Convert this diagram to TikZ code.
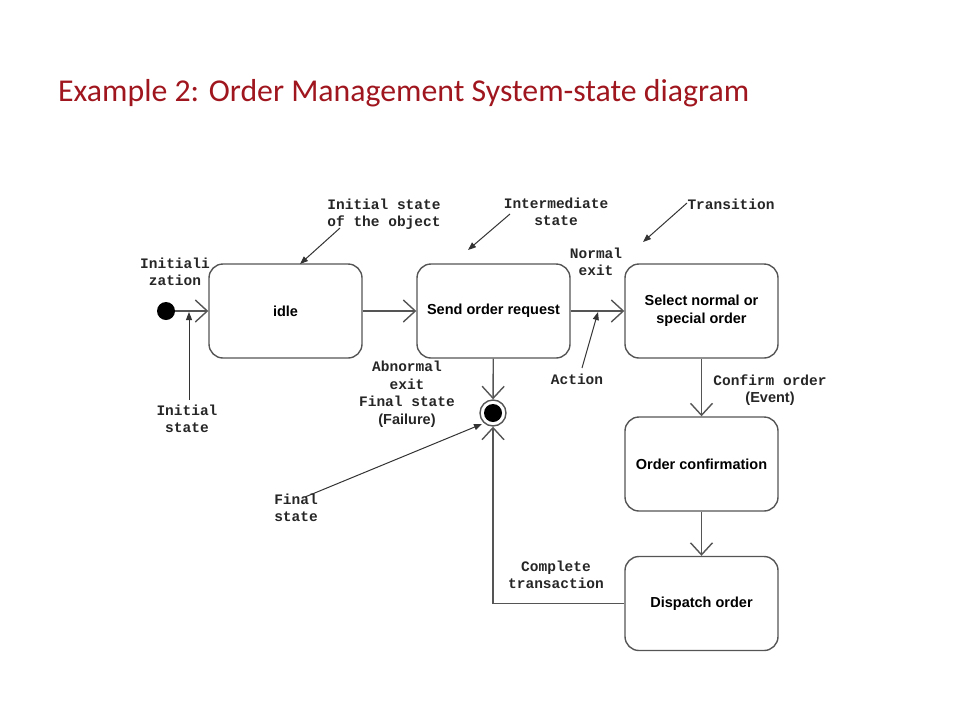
\documentclass[tikz,border=0pt]{standalone}
\usepackage{fontspec}
\usetikzlibrary{arrows.meta}
\setmainfont{Carlito}
\newfontfamily\boxfamily{Liberation Sans}
\newfontfamily\notefamily{Liberation Mono}
\definecolor{titlered}{HTML}{A0161E}
\definecolor{linegray}{HTML}{555555}

\tikzset{
  statebox/.style={draw=linegray, line width=1.4pt, rounded corners=14pt,
    minimum width=153pt, minimum height=94pt, align=center,
    font=\boxfamily\bfseries\fontsize{14.5}{18}\selectfont},
  annot/.style={align=center, text=black!85, inner sep=0pt,
    font=\notefamily\bfseries\fontsize{14.5}{17.5}\selectfont},
  transarrow/.style={draw=linegray, line width=1.4pt,
    -{Straight Barb[length=12pt,width=22pt]}},
  annotarrow/.style={draw=black!80, line width=1pt,
    -{Triangle[length=8pt,width=6pt]}},
}

\begin{document}
\begin{tikzpicture}[x=1pt,y=-1pt]
  \useasboundingbox (0,0) rectangle (960,720);
  %Title
  \node[anchor=base west, inner sep=0pt, text=titlered,
    font=\fontsize{31.8}{36}\selectfont] (title) at (58,101)
    {Example 2: Order Management System-state diagram};

  %States
  \node[statebox] (idle) at (285.5,311) {idle};
  \node[statebox] (send) at (493.5,311) {Send order request};
  \node[statebox] (select) at (701.5,311) {Select normal or\\special order};
  \node[statebox] (confirm) at (701.5,464) {Order confirmation};
  \node[statebox] (dispatch) at (701.5,603.5) {Dispatch order};

  \node[circle, fill=black, minimum size=18pt, inner sep=0pt] (start) at (166,311) {};
  \node[circle, draw=linegray, line width=1.4pt, fill=white,
    minimum size=26pt, inner sep=0pt] (final) at (493,413) {};
  \fill (final) circle (9pt);

  %Transitions
  \draw[transarrow] (start) -- (idle);
  \draw[transarrow] (idle) -- (send);
  \draw[transarrow] (send) -- (select);
  \draw[transarrow] (send) -- (final);
  \draw[transarrow] (select) -- (confirm);
  \draw[transarrow] (confirm) -- (dispatch);
  \draw[transarrow] (dispatch.west) -| (final.south);

  %Annotations
  \node[annot] (initobj) at (384,214) {Initial state\\of the object};
  \node[annot] (inter) at (556,212) {Intermediate\\state};
  \node[annot] (transition) at (731,204) {Transition};
  \node[annot] (initz) at (175,272) {Initiali\\zation};
  \node[annot] (initst) at (187,419) {Initial\\state};
  \node[annot] (normal) at (596,262) {Normal\\exit};
  \node[annot] (action) at (577,379) {Action};
  \node[annot] (abnormal) at (407,394)
    {Abnormal\\exit\\Final state\\{\boxfamily (Failure)}};
  \node[annot] (confirmlbl) at (770,390) {Confirm order\\{\boxfamily (Event)}};
  \node[annot] (finalst) at (296,508) {Final\\state};
  \node[annot] (complete) at (556,575) {Complete\\transaction};

  \coordinate (initobjtail) at (340,228);
  \coordinate (initobjtip) at (300,264);
  \coordinate (intertail) at (510,214);
  \coordinate (intertip) at (468,250);
  \coordinate (transtail) at (687,203);
  \coordinate (transtip) at (643,242);
  \coordinate (initsttail) at (189,400);
  \coordinate (initsttip) at (189,312);
  \coordinate (actiontail) at (582,368);
  \coordinate (actiontip) at (598,312);
  \coordinate (finalsttail) at (305,497);
  \coordinate (finalsttip) at (482,424);

  \draw[annotarrow] (initobjtail) -- (initobjtip);
  \draw[annotarrow] (intertail) -- (intertip);
  \draw[annotarrow] (transtail) -- (transtip);
  \draw[annotarrow] (initsttail) -- (initsttip);
  \draw[annotarrow] (actiontail) -- (actiontip);
  \draw[annotarrow] (finalsttail) -- (finalsttip);
\end{tikzpicture}
\end{document}
